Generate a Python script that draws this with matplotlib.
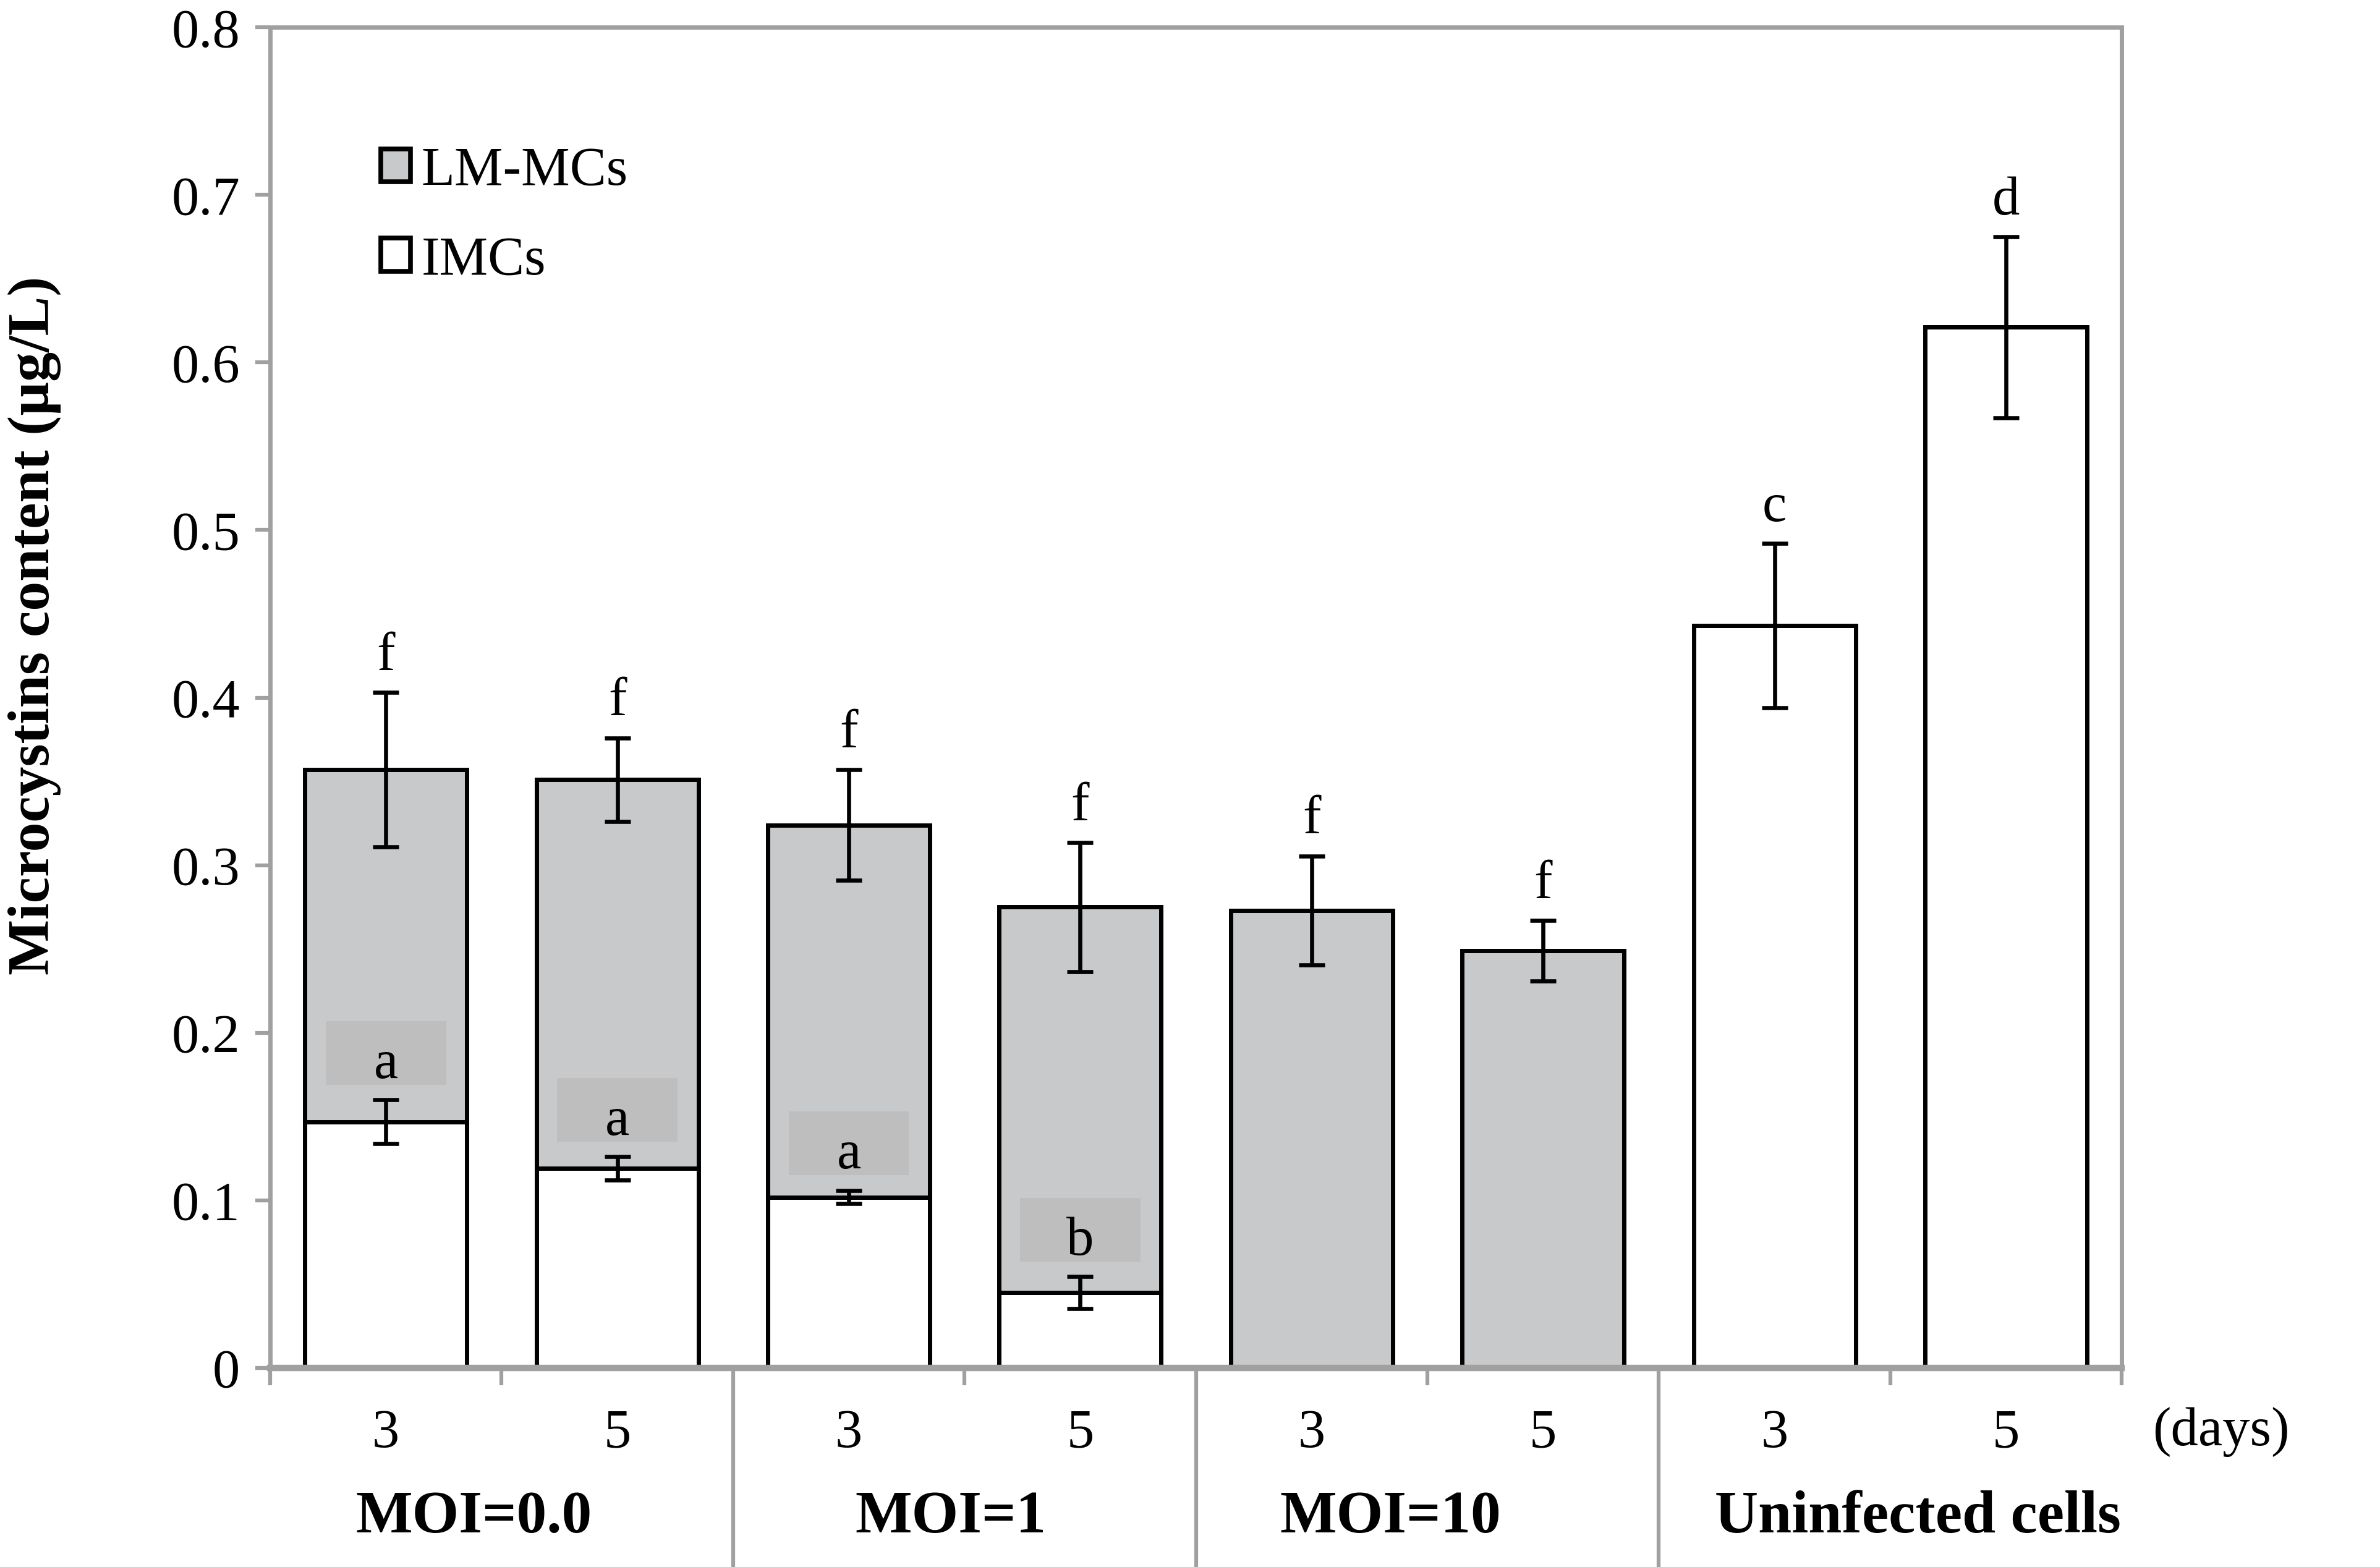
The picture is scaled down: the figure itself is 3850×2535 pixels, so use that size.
import numpy as np
import matplotlib
matplotlib.use("Agg")
import matplotlib.pyplot as plt
from matplotlib.patches import Patch, Rectangle
from matplotlib.lines import Line2D
import matplotlib.transforms as mtransforms

plt.rcParams["font.family"] = ["Liberation Serif", "DejaVu Serif"]

# data
groups = ["MOI=0.0", "MOI=1", "MOI=10", "Uninfected cells"]
group_pos = [0.38, 2.44, 4.34, 6.62]
days = ["3", "5", "3", "5", "3", "5", "3", "5"]
imcs = [0.147, 0.119, 0.102, 0.045, 0.0, 0.0, 0.443, 0.621]
imcs_err = [0.013, 0.007, 0.004, 0.0095, 0.0, 0.0, 0.049, 0.054]
total = [0.357, 0.351, 0.324, 0.275, 0.273, 0.249, 0.443, 0.621]
total_err = [0.046, 0.025, 0.033, 0.0385, 0.0326, 0.018, 0.0, 0.0]
top_letters = ["f", "f", "f", "f", "f", "f", "c", "d"]
imc_letters = ["a", "a", "a", "b", "", "", "", ""]
yticks = [0, 0.1, 0.2, 0.3, 0.4, 0.5, 0.6, 0.7, 0.8]
ytick_labels = ["0", "0.1", "0.2", "0.3", "0.4", "0.5", "0.6", "0.7", "0.8"]

gray = "#c8c9cb"
axis_gray = "#a0a0a0"
fs = 25.5

x = np.arange(len(days))
imcs = np.array(imcs)
total = np.array(total)
lm = total - imcs

fig = plt.figure(figsize=(15.4, 10.14), dpi=250)
ax = fig.add_axes([0.1135, 0.127, 0.778, 0.8556])

w = 0.70
ax.bar(x, imcs, w, color="white", edgecolor="black", linewidth=2.0, label="IMCs", zorder=2)
ax.bar(x, lm, w, bottom=imcs, color=gray, edgecolor="black", linewidth=2.0, label="LM-MCs", zorder=2)

# error bars
ax.errorbar(x[:6], total[:6], yerr=total_err[:6], fmt="none", ecolor="black",
            elinewidth=1.9, capsize=6, capthick=1.9, zorder=4)
ax.errorbar(x, imcs, yerr=np.where(np.array(imcs_err) > 0, imcs_err, np.nan), fmt="none",
            ecolor="black", elinewidth=1.9, capsize=6, capthick=1.9, zorder=4)

# letters above the total bars
for i in range(len(x)):
    err = total_err[i] if total_err[i] > 0 else imcs_err[i]
    ax.annotate(top_letters[i], (x[i], total[i] + err), xytext=(0, 5),
                textcoords="offset points", ha="center", va="bottom", fontsize=fs)

# letters with a shaded box above the IMC bars
for i in range(len(x)):
    if imc_letters[i]:
        y0 = imcs[i] + imcs_err[i] + 0.009
        ax.add_patch(Rectangle((x[i] - 0.26, y0), 0.52, 0.038, facecolor="#bebebe",
                               edgecolor="none", zorder=3))
        ax.text(x[i], y0 + 0.004, imc_letters[i], ha="center", va="baseline",
                fontsize=fs, zorder=5)

ax.set_xlim(-0.5, 7.5)
ax.set_ylim(0, 0.8)
ax.set_yticks(yticks)
ax.set_yticklabels(ytick_labels)

# boundary ticks (no labels) and day labels at the centres
ax.set_xticks([-0.5, 0.5, 2.5, 4.5, 6.5, 7.5])
ax.set_xticklabels([])
ax.set_xticks(x, minor=True)
ax.set_xticklabels(days, minor=True)
ax.tick_params(axis="x", which="major", direction="out", length=8, width=1.8, color=axis_gray)
ax.tick_params(axis="x", which="minor", length=0, pad=19, labelsize=fs)
ax.tick_params(axis="y", direction="out", length=7, width=1.8, color=axis_gray, labelsize=fs, pad=7)

for s in ax.spines.values():
    s.set_color(axis_gray)
    s.set_linewidth(2.0)
ax.spines["bottom"].set_linewidth(3.0)

# long separators between groups
trans = mtransforms.blended_transform_factory(ax.transData, ax.transAxes)
for xs in [1.5, 3.5, 5.5]:
    ax.add_line(Line2D([xs, xs], [0, -0.15], transform=trans, color=axis_gray,
                       linewidth=1.8, clip_on=False))

# group names
for g, gx in zip(groups, group_pos):
    ax.text(gx, -0.112, g, transform=trans, ha="center", va="center",
            fontsize=28, fontweight="bold")
ax.text(7.93, -0.0476, "(days)", transform=trans, ha="center", va="center", fontsize=fs)

ax.set_ylabel("Microcystins content (\u00b5g/L)", fontsize=27.5, fontweight="bold")
ax.yaxis.set_label_coords(-0.113, 0.554)

handles = [Patch(facecolor=gray, edgecolor="black", linewidth=2.2, label="LM-MCs"),
           Patch(facecolor="white", edgecolor="black", linewidth=2.2, label="IMCs")]
ax.legend(handles=handles, loc="upper left", bbox_to_anchor=(0.033, 0.948), frameon=False,
          fontsize=fs, handlelength=0.55, handleheight=0.55, handletextpad=0.2,
          labelspacing=0.72)

fig.savefig("out.png", dpi=250)
